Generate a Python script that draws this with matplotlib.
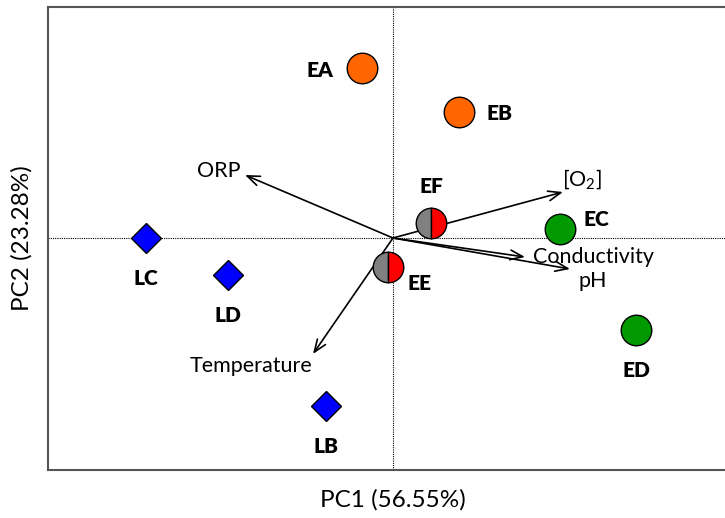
"""
PCA biplot of sampling sites with environmental loadings.
"""
import matplotlib
matplotlib.use("Agg")
import matplotlib.pyplot as plt

plt.rcParams["font.family"] = ["Lato", "DejaVu Sans"]
plt.rcParams["mathtext.fontset"] = "custom"
plt.rcParams["mathtext.rm"] = "Lato"

# site scores (PC1, PC2)
site_names = ["EA", "EB", "EC", "ED", "EE", "EF", "LB", "LC", "LD"]
site_pc1   = [-0.31, 0.66, 1.67, 2.43, -0.05, 0.38, -0.67, -2.47, -1.65]
site_pc2   = [1.70, 1.26, 0.09, -0.92, -0.29, 0.15, -1.68, 0.00, -0.37]
site_group = ["orange", "orange", "green", "green", "half", "half", "blue", "blue", "blue"]

# variable loadings (PC1, PC2)
var_names = ["ORP", "[O$_2$]", "Conductivity", "pH", "Temperature"]
var_pc1   = [-1.48, 1.70, 1.32, 1.77, -0.80]
var_pc2   = [0.63, 0.46, -0.19, -0.31, -1.16]

pc1_pct = 56.55
pc2_pct = 23.28

# label offsets in points (dx, dy) for each site
label_off = {"EA": (-30, -2), "EB": (29, -1), "EC": (26, 7), "ED": (0, -29),
             "EE": (23, -12), "EF": (0, 26), "LB": (0, -29), "LC": (0, -29),
             "LD": (0, -29)}
var_off = {"ORP": (-19, 3), "[O$_2$]": (14, 9), "Conductivity": (49, 0),
           "pH": (16.5, -8.6), "Temperature": (-45, -9)}

fig = plt.figure(figsize=(7.25, 5.18), dpi=100)
ax = fig.add_axes([48 / 725, 48 / 518, 678 / 725, 463 / 518])
ax.set_xlim(-3.45, 3.33)
ax.set_ylim(-2.32, 2.31)

ax.axhline(0, color="black", lw=0.8, ls=(0, (1, 1)), zorder=1)
ax.axvline(0, color="black", lw=0.8, ls=(0, (1, 1)), zorder=1)

for name, x, y in zip(var_names, var_pc1, var_pc2):
    ax.annotate("", xy=(x, y), xytext=(0, 0),
                arrowprops=dict(arrowstyle="->,head_length=0.9,head_width=0.35",
                                color="black", lw=1.2, shrinkA=0, shrinkB=0),
                zorder=2)
    dx, dy = var_off[name]
    ax.annotate(name, xy=(x, y), xytext=(dx, dy), textcoords="offset points",
                ha="center", va="center", fontsize=15.5, zorder=3)

colors = {"orange": "#ff6600", "green": "#009900", "blue": "#0000ff"}
for name, x, y, g in zip(site_names, site_pc1, site_pc2, site_group):
    if g == "blue":
        ax.plot(x, y, marker="D", ms=15, mfc=colors[g], mec="black", mew=1, zorder=4)
    elif g == "half":
        ax.plot(x, y, marker="o", ms=22, fillstyle="left", mfc="#808080",
                markerfacecoloralt="#ff0000", mec="black", mew=1, zorder=4)
    else:
        ax.plot(x, y, marker="o", ms=22, mfc=colors[g], mec="black", mew=1, zorder=4)
    dx, dy = label_off[name]
    ax.annotate(name, xy=(x, y), xytext=(dx, dy), textcoords="offset points",
                ha="center", va="center", fontsize=15, fontweight="heavy", zorder=5)

for side in ["left", "bottom", "top"]:
    ax.spines[side].set_color("#555555")
    ax.spines[side].set_linewidth(1.5)
ax.spines["right"].set_visible(False)
ax.set_xticks([])
ax.set_yticks([])

fig.text(393 / 725, 1 - 500 / 518, f"PC1 ({pc1_pct:.2f}%)", ha="center", va="center", fontsize=17.5)
fig.text(22 / 725, 1 - 238 / 518, f"PC2 ({pc2_pct:.2f}%)", ha="center", va="center",
         fontsize=17.5, rotation=90)

plt.savefig("out.png", dpi=100)
